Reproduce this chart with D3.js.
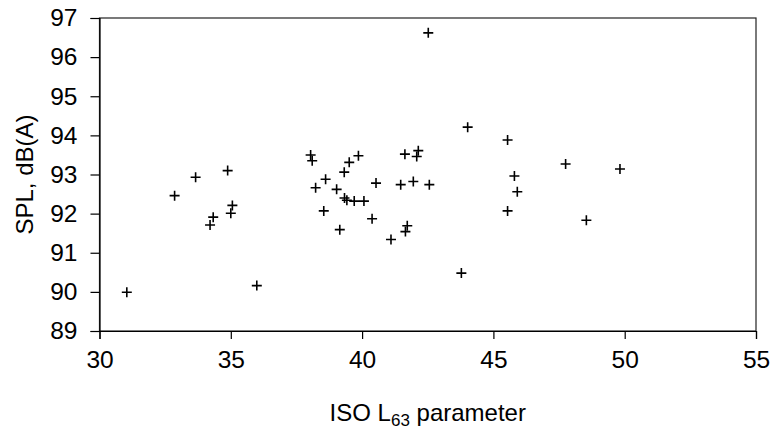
<!DOCTYPE html>
<html>
<head>
<meta charset="utf-8">
<script src="https://cdn.jsdelivr.net/npm/d3@7/dist/d3.min.js"></script>
<style>
  html, body { margin: 0; padding: 0; background: #fff; }
  svg { display: block; font-family: "Liberation Sans", Arial, sans-serif; }
</style>
</head>
<body>
<svg id="chart" width="772" height="429"></svg>
<script>
// ISO L63 parameter for each measurement
const l63 = [
  42.52, 38.04, 38.10, 39.86, 39.51, 39.32, 41.63, 42.14, 42.08, 34.88,
  33.66, 38.61, 44.02, 45.54, 47.75, 49.82, 45.80, 32.86, 38.23, 39.03,
  40.53, 41.47, 41.95, 42.56, 39.33, 39.42, 39.70, 40.07, 35.06, 35.00,
  34.33, 34.21, 38.54, 40.38, 39.15, 41.72, 41.65, 41.10, 31.04, 35.99,
  45.91, 45.54, 48.54, 43.78
];
// Sound pressure level, dB(A)
const spl = [
  96.62, 93.50, 93.35, 93.48, 93.31, 93.06, 93.52, 93.61, 93.46, 93.10,
  92.93, 92.88, 94.21, 93.88, 93.27, 93.14, 92.96, 92.46, 92.66, 92.62,
  92.78, 92.74, 92.82, 92.74, 92.40, 92.34, 92.32, 92.32, 92.21, 92.01,
  91.91, 91.71, 92.07, 91.87, 91.59, 91.69, 91.54, 91.34, 89.99, 90.16,
  92.56, 92.07, 91.83, 90.48
];
const xTicks = [30, 35, 40, 45, 50, 55];
const yTicks = [89, 90, 91, 92, 93, 94, 95, 96, 97];

const svg = d3.select("#chart");
const plotL = 99.5, plotR = 756, plotT = 18, plotB = 331;

const x = d3.scaleLinear().domain([30, 55]).range([plotL, plotR]);
const y = d3.scaleLinear().domain([89, 97]).range([plotB, plotT]);

// plot frame
svg.append("rect")
  .attr("x", plotL).attr("y", plotT)
  .attr("width", plotR - plotL).attr("height", plotB - plotT)
  .attr("fill", "none").attr("stroke", "#222").attr("stroke-width", 1.2);

const yAxis = svg.append("g")
  .attr("transform", `translate(${plotL},0)`)
  .call(d3.axisLeft(y).tickValues(yTicks).tickSize(9).tickPadding(13).tickFormat(d3.format("d")));

const xAxis = svg.append("g")
  .attr("transform", `translate(0,${plotB})`)
  .call(d3.axisBottom(x).tickValues(xTicks).tickSize(8).tickPadding(12).tickFormat(d3.format("d")));

[yAxis, xAxis].forEach(g => {
  g.select(".domain").attr("stroke", "#000").attr("stroke-width", 1.2);
  g.selectAll(".tick line").attr("stroke", "#000").attr("stroke-width", 1.2);
  g.selectAll(".tick text")
    .attr("fill", "#000")
    .style("font-size", "24.5px")
    .style("font-family", "'Liberation Sans', Arial, sans-serif");
});

// plus markers
const arm = 5;
svg.append("g")
  .selectAll("path")
  .data(l63.map((v, i) => [v, spl[i]]))
  .join("path")
  .attr("d", d => {
    const cx = x(d[0]), cy = y(d[1]);
    return `M${cx - arm},${cy}H${cx + arm}M${cx},${cy - arm}V${cy + arm}`;
  })
  .attr("stroke", "#000")
  .attr("stroke-width", 1.6)
  .attr("fill", "none");

// axis titles
svg.append("text")
  .attr("transform", `translate(24,${(plotT + plotB) / 2}) rotate(-90)`)
  .attr("text-anchor", "middle")
  .attr("dominant-baseline", "central")
  .style("font-size", "24px")
  .text("SPL, dB(A)");

const xt = svg.append("text")
  .attr("x", (plotL + plotR) / 2)
  .attr("y", 421)
  .attr("text-anchor", "middle")
  .style("font-size", "24px");
xt.append("tspan").text("ISO L");
xt.append("tspan").attr("dy", 5).style("font-size", "17px").text("63");
xt.append("tspan").attr("dy", -5).text(" parameter");
</script>
</body>
</html>
